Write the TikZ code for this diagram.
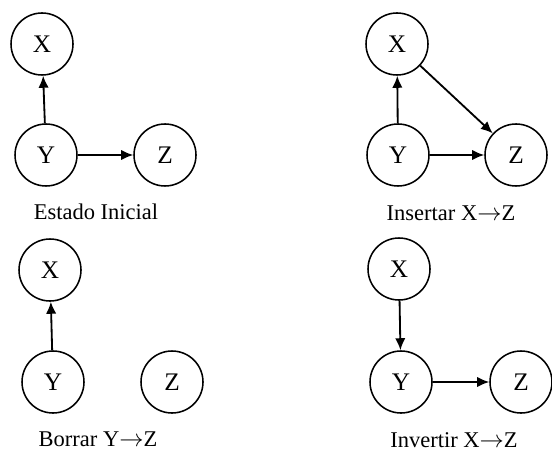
\documentclass[tikz,border=0pt]{standalone}
\usepackage{fontspec}
\setmainfont{Liberation Serif}
\usepackage{tikz}
\usetikzlibrary{arrows.meta}

\newcommand{\tto}{$\rightarrow$}

\begin{document}
\begin{tikzpicture}[
  every node/.style={circle,draw,line width=1.1pt,minimum size=1.55cm,font=\fontsize{18}{21}\selectfont},
  ->, >={Latex[length=3mm,width=2.6mm]}, line width=1.3pt
]
  \useasboundingbox (0,0) rectangle (13.8,-11.35);

  % Estado Inicial
  \node (x1) at (1.05,-1.1)   {X};
  \node (y1) at (1.15,-3.875) {Y};
  \node (z1) at (4.125,-3.875) {Z};
  \draw (y1)--(x1);
  \draw (y1)--(z1);
  \node[draw=none,font=\fontsize{16}{19}\selectfont] (l1) at (2.4,-5.3) {Estado Inicial};

  % Insertar
  \node (x2) at (9.925,-1.1)  {X};
  \node (y2) at (9.95,-3.875) {Y};
  \node (z2) at (12.9,-3.875) {Z};
  \draw (y2)--(x2);
  \draw (y2)--(z2);
  \draw (x2)--(z2);
  \node[draw=none,font=\fontsize{16}{19}\selectfont] (l2) at (11.275,-5.325) {Insertar X\tto Z};

  % Borrar
  \node (x3) at (1.25,-6.75)  {X};
  \node (y3) at (1.325,-9.55) {Y};
  \node (z3) at (4.3,-9.55)   {Z};
  \draw (y3)--(x3);
  \node[draw=none,font=\fontsize{16}{19}\selectfont] (l3) at (2.45,-10.975) {Borrar Y\tto Z};

  % Invertir
  \node (x4) at (9.975,-6.725) {X};
  \node (y4) at (10.025,-9.55) {Y};
  \node (z4) at (13.025,-9.55) {Z};
  \draw (x4)--(y4);
  \draw (y4)--(z4);
  \node[draw=none,font=\fontsize{16}{19}\selectfont] (l4) at (11.35,-11) {Invertir X\tto Z};
\end{tikzpicture}
\end{document}
